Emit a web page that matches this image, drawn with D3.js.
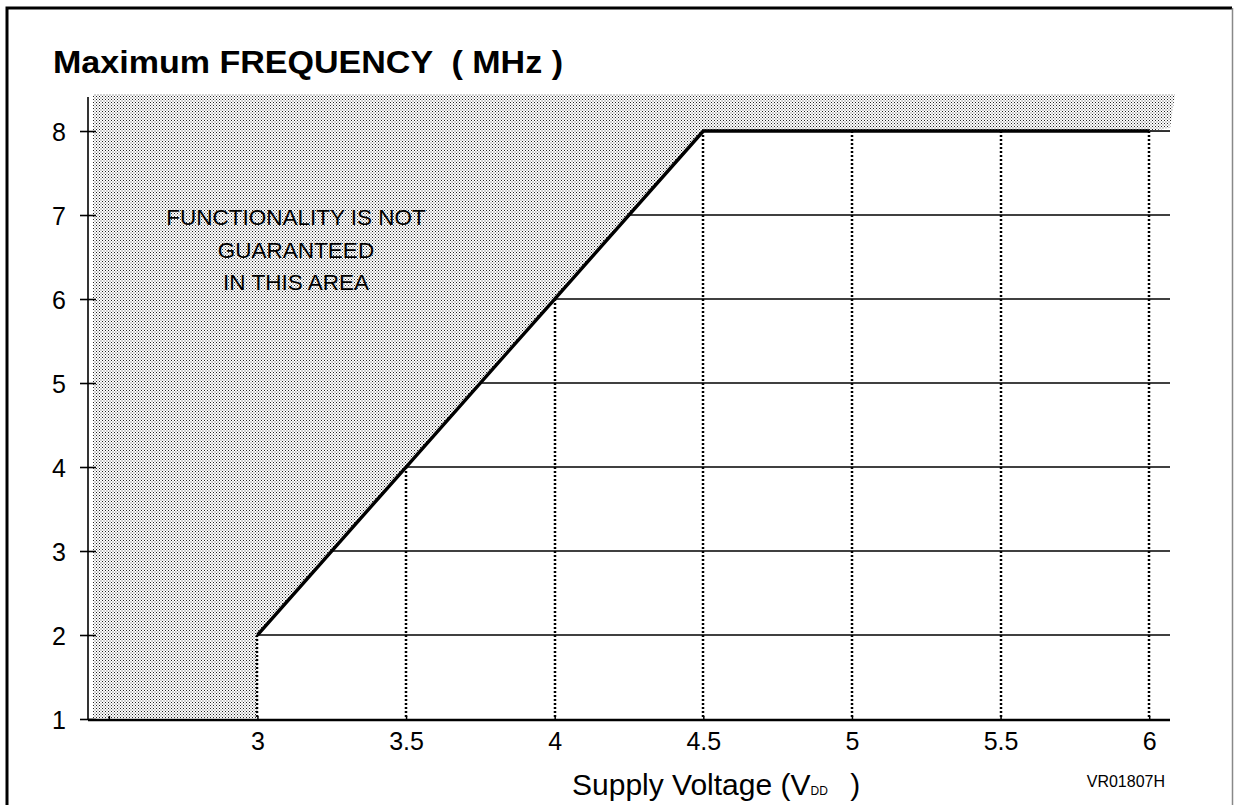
<!DOCTYPE html>
<html>
<head>
<meta charset="utf-8">
<script src="https://cdn.jsdelivr.net/npm/d3@7"></script>
<style>
  body { margin: 0; background: #fff; }
  svg { display: block; font-family: "Liberation Sans", Arial, sans-serif; }
</style>
</head>
<body>
<svg width="1234" height="805"></svg>
<script>
// Operating curve: max frequency vs supply voltage
const voltage = [3, 3.5, 4, 4.5, 5, 5.5, 6];
const maxFreq = [2, 4, 6, 8, 8, 8, 8];

const yTicks = [1, 2, 3, 4, 5, 6, 7, 8];
const xTicks = [2.5, 3, 3.5, 4, 4.5, 5, 5.5, 6];
const xTickLabels = ["", "3", "3.5", "4", "4.5", "5", "5.5", "6"];
const gridFreqs = [2, 3, 4, 5, 6, 7];

const title = "Maximum FREQUENCY  ( MHz )";
const note = ["FUNCTIONALITY IS NOT", "GUARANTEED", "IN THIS AREA"];
const figCode = "VR01807H";

const svg = d3.select("svg");

const x = d3.scaleLinear().domain([2.43, 6.07]).range([88, 1170]);
const y = d3.scaleLinear().domain([1, 8.405]).range([719, 97]);

// voltage at which the rising edge reaches a given frequency
const rising = maxFreq.findIndex((f) => f === d3.max(maxFreq)) + 1;
const voltAt = d3.scaleLinear()
  .domain(maxFreq.slice(0, rising))
  .range(voltage.slice(0, rising));

// dotted fill pattern
const defs = svg.append("defs");
const pat = defs.append("pattern")
  .attr("id", "dots")
  .attr("patternUnits", "userSpaceOnUse")
  .attr("width", 3).attr("height", 3);
pat.append("rect").attr("width", 3).attr("height", 3).attr("fill", "#fff");
pat.append("rect").attr("width", 1).attr("height", 1).attr("fill", "#222");
pat.append("rect").attr("x", 1).attr("y", 1).attr("width", 2).attr("height", 2).attr("fill", "#d2d2d2");

// frame
svg.append("path")
  .attr("d", "M7,805 V8 H1232")
  .attr("fill", "none").attr("stroke", "#000").attr("stroke-width", 3);
svg.append("line")
  .attr("x1", 1232.5).attr("x2", 1232.5).attr("y1", 8).attr("y2", 805)
  .attr("stroke", "#888").attr("stroke-width", 1.5);

// title
svg.append("text")
  .attr("x", 53).attr("y", 73)
  .attr("font-size", 31).attr("font-weight", "bold")
  .attr("textLength", 510).attr("lengthAdjust", "spacingAndGlyphs")
  .style("white-space", "pre")
  .text(title);

// shaded "not guaranteed" region
const topY = y.range()[1] - 3;
const shadePts = [
  [x.range()[0] + 5, topY],
  [x.range()[1] + 5, topY],
  [x.range()[1], y(8) - 3],
];
for (let i = voltage.length - 1; i >= 0; i--) shadePts.push([x(voltage[i]), y(maxFreq[i])]);
shadePts.push([x(voltage[0]), y(1) - 1]);
shadePts.push([x.range()[0] + 5, y(1) - 1]);
svg.append("path")
  .attr("d", d3.line()(shadePts) + "Z")
  .attr("fill", "url(#dots)");

// horizontal grid lines, starting at the curve
svg.append("g").selectAll("line")
  .data(gridFreqs)
  .join("line")
  .attr("x1", (f) => x(voltAt(f)))
  .attr("x2", x.range()[1])
  .attr("y1", (f) => y(f)).attr("y2", (f) => y(f))
  .attr("stroke", "#000").attr("stroke-width", 1.6);

// top line continuation past 6 V
svg.append("line")
  .attr("x1", x(voltage[voltage.length - 1])).attr("x2", x.range()[1])
  .attr("y1", y(8)).attr("y2", y(8))
  .attr("stroke", "#000").attr("stroke-width", 1.6);

// vertical dotted lines
svg.append("g").selectAll("line")
  .data(voltage)
  .join("line")
  .attr("x1", (v) => Math.round(x(v))).attr("x2", (v) => Math.round(x(v)))
  .attr("y1", (v, i) => y(maxFreq[i]))
  .attr("y2", y(1))
  .attr("stroke", "#000").attr("stroke-width", 2.5)
  .attr("stroke-dasharray", "2,2");

// curve
svg.append("path")
  .datum(voltage.map((v, i) => [v, maxFreq[i]]))
  .attr("fill", "none").attr("stroke", "#000").attr("stroke-width", 3.4)
  .attr("d", d3.line().x((d) => x(d[0])).y((d) => y(d[1])));

// y axis
const yAxis = svg.append("g")
  .attr("transform", `translate(${x.range()[0]},0)`)
  .call(d3.axisLeft(y).tickValues(yTicks).tickSize(8).tickPadding(14));
yAxis.select(".domain").attr("d", `M0,${y.range()[0] + 1}V${y.range()[1]}`).attr("stroke-width", 1.6);
yAxis.selectAll(".tick line").attr("x1", -8).attr("x2", 8).attr("stroke-width", 1.6);
yAxis.selectAll(".tick text")
  .attr("font-size", 25).attr("font-family", "Liberation Sans, Arial, sans-serif")
  .attr("fill", "#000").attr("dy", "0.36em");

// x axis
const xAxis = svg.append("g")
  .attr("transform", `translate(0,${y(1) + 1})`)
  .call(d3.axisBottom(x).tickValues(xTicks).tickFormat((d, i) => xTickLabels[i]).tickSize(0).tickPadding(12));
xAxis.select(".domain").attr("d", `M${x.range()[0]},0H${x.range()[1]}`).attr("stroke-width", 2.5);
xAxis.selectAll(".tick line").attr("y2", -4).attr("stroke-width", 1.5);
xAxis.selectAll(".tick text")
  .attr("font-size", 25).attr("font-family", "Liberation Sans, Arial, sans-serif")
  .attr("fill", "#000").attr("dy", "0.71em");

// x axis title
const xt = svg.append("text")
  .attr("x", 572).attr("y", 795)
  .attr("font-size", 30)
  .style("white-space", "pre");
xt.append("tspan").text("Supply Voltage (V");
xt.append("tspan").attr("font-size", 12).text("DD");
xt.append("tspan").attr("dx", 14).text(" )");

svg.append("text")
  .attr("x", 1165).attr("y", 787)
  .attr("text-anchor", "end")
  .attr("font-size", 16)
  .text(figCode);

// annotation
svg.append("text")
  .attr("text-anchor", "middle")
  .attr("font-size", 22.5)
  .selectAll("tspan")
  .data(note)
  .join("tspan")
  .attr("x", 296)
  .attr("y", (d, i) => 225 + i * 32.5)
  .text((d) => d);
</script>
</body>
</html>
